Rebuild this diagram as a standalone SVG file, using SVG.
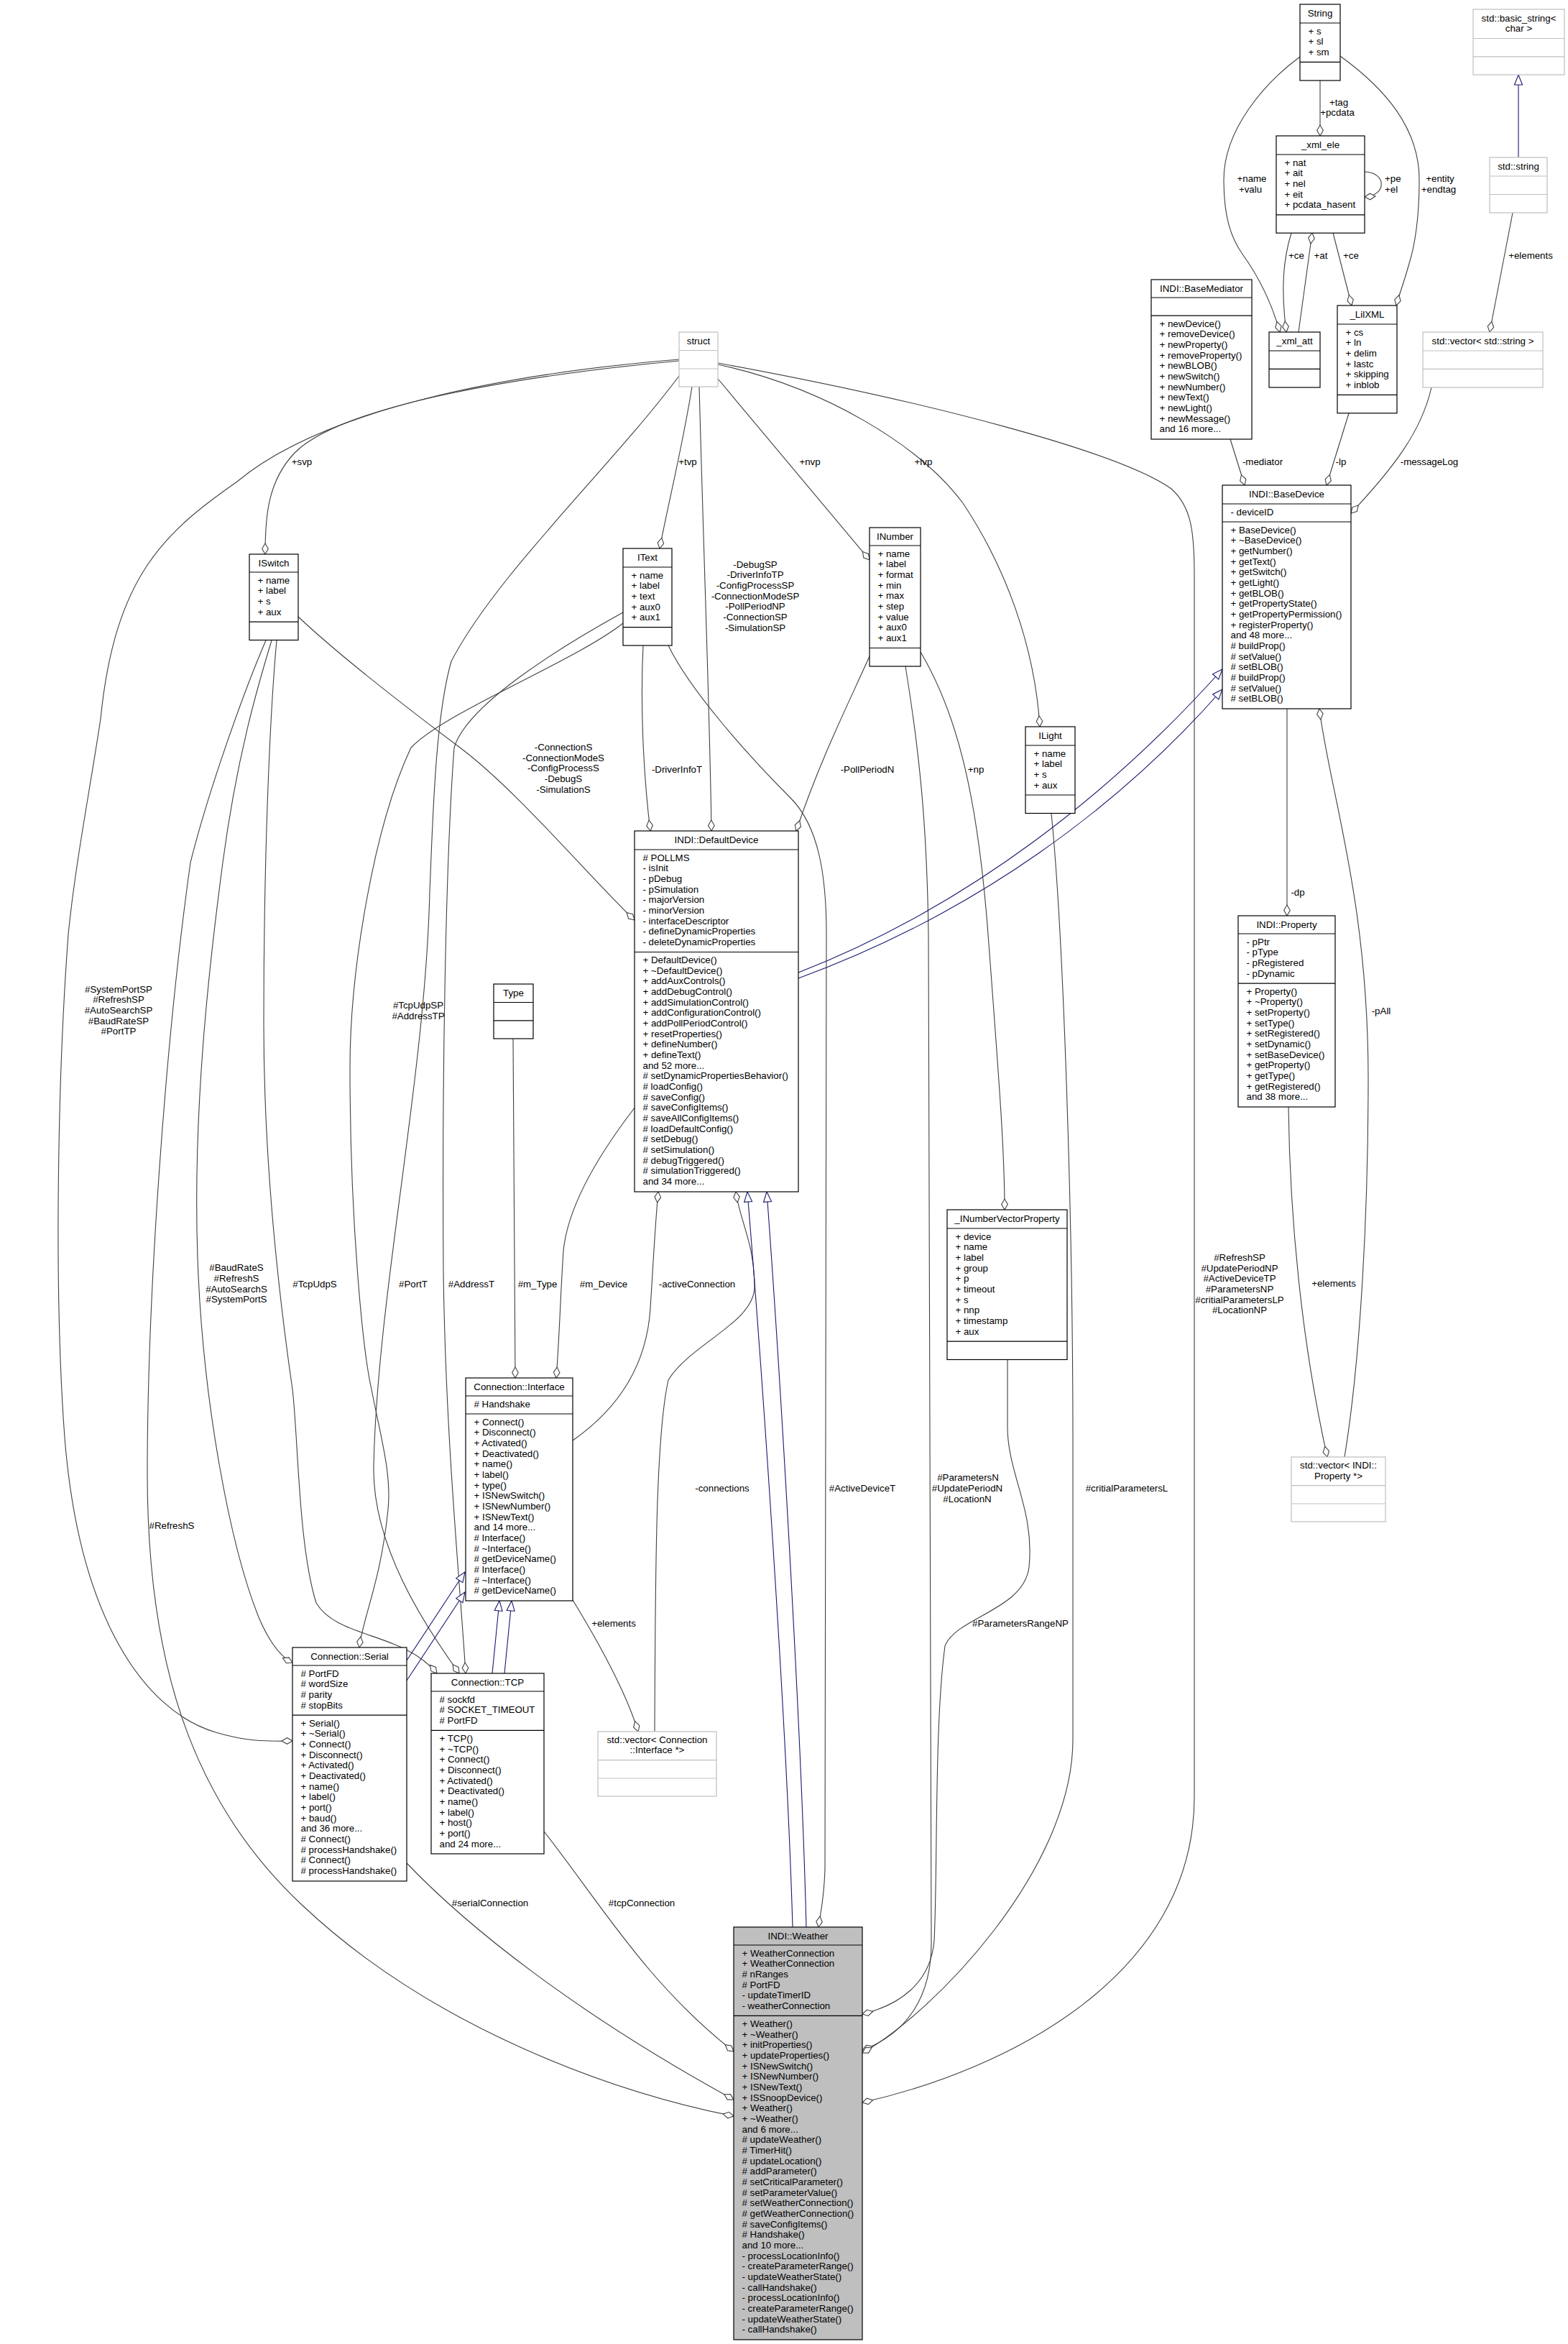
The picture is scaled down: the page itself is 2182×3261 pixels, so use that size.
<svg xmlns="http://www.w3.org/2000/svg" width="2182" height="3261" viewBox="0 0 2182 3261">
<style>
text{font-family:"Liberation Sans",Arial,sans-serif;font-size:13.3px;fill:#000}
.c{text-anchor:middle}
.b{fill:#fff;stroke:#000;stroke-width:1.2}
.gb{fill:#fff;stroke:#bfbfbf;stroke-width:1.2}
.w{fill:#bfbfbf;stroke:#000;stroke-width:1.2}
.s{stroke:#000;stroke-width:1.2}
.gs{stroke:#bfbfbf;stroke-width:1.2}
.e{fill:none;stroke:#404040;stroke-width:1.1}
.ih{fill:none;stroke:#191970;stroke-width:1.1}
</style>
<defs>
<marker id="d" viewBox="-17 -6 18 12" refX="0" refY="0" markerWidth="18" markerHeight="12" markerUnits="userSpaceOnUse" orient="auto"><path d="M0,0 L-7.5,-4.3 L-15,0 L-7.5,4.3 Z" fill="#fff" stroke="#404040" stroke-width="1.1"/></marker>
<marker id="tr" viewBox="-17 -7 18 14" refX="0" refY="0" markerWidth="18" markerHeight="14" markerUnits="userSpaceOnUse" orient="auto"><path d="M0,0 L-14,-5.5 L-14,5.5 Z" fill="#fff" stroke="#191970" stroke-width="1.1"/></marker>
</defs>
<rect x="0" y="0" width="2182" height="3261" fill="#fff"/>

<g id="edges">
<path class="e" d="M1837,112 L1837,189" marker-end="url(#d)"/>
<path class="e" d="M1809,79 C1760,115 1703,180 1703,250 C1703,300 1712,330 1730,355 C1755,390 1772,430 1781,462" marker-end="url(#d)"/>
<path class="e" d="M1865,78 C1930,125 1975,180 1975,250 C1975,310 1968,345 1960,370 C1953,395 1947,410 1943,425" marker-end="url(#d)"/>
<path class="e" d="M1899,239 C1930,240 1930,272 1899,274" marker-end="url(#d)"/>
<path class="e" d="M1797,324 C1786,360 1782,400 1790,462" marker-end="url(#d)"/>
<path class="e" d="M1807,462 L1826,324" marker-end="url(#d)"/>
<path class="e" d="M1855,324 L1881,425" marker-end="url(#d)"/>
<path class="ih" d="M2113,219 L2113,104" marker-end="url(#tr)"/>
<path class="e" d="M2105,296 L2073,462" marker-end="url(#d)"/>
<path class="e" d="M1712,611 L1732,675" marker-end="url(#d)"/>
<path class="e" d="M1877,575 L1846,675" marker-end="url(#d)"/>
<path class="e" d="M1992,539 C1978,600 1940,650 1880,714" marker-end="url(#d)"/>
<path class="e" d="M1791,986 L1791,1274" marker-end="url(#d)"/>
<path class="e" d="M1793,1540 C1795,1700 1812,1870 1847,2027" marker-end="url(#d)"/>
<path class="e" d="M1871,2027 C1892,1900 1904,1700 1904,1500 C1904,1250 1850,1100 1836,986" marker-end="url(#d)"/>
<path class="e" d="M945,502 C750,520 480,560 410,630 C372,670 369,720 369,771" marker-end="url(#d)"/>
<path class="e" d="M963,538 C950,620 930,700 918,763" marker-end="url(#d)"/>
<path class="e" d="M999,527 L1210,779" marker-end="url(#d)"/>
<path class="e" d="M999,507 C1150,540 1280,620 1340,700 C1400,790 1440,900 1447,1011" marker-end="url(#d)"/>
<path class="e" d="M973,538 C980,800 988,1000 990,1156" marker-end="url(#d)"/>
<path class="e" d="M945,500 C700,520 450,570 330,670 C230,740 160,800 140,1000 C125,1100 105,1200 95,1300 C80,1500 75,1800 90,2000 C110,2250 200,2380 300,2410 C350,2425 380,2422 407,2422" marker-end="url(#d)"/>
<path class="e" d="M945,523 C850,650 690,800 628,920 C605,1000 602,1150 598,1240 C592,1500 525,1800 520,2040 C518,2150 590,2260 639,2328" marker-end="url(#d)"/>
<path class="e" d="M999,505 C1300,560 1560,630 1630,680 C1658,705 1662,740 1662,800 L1662,2500 C1662,2750 1400,2880 1200,2925" marker-end="url(#d)"/>
<path class="e" d="M415,858 C470,910 560,980 640,1040 C720,1100 820,1220 883,1280" marker-end="url(#d)"/>
<path class="e" d="M378,891 C360,950 330,1050 310,1200 C290,1350 268,1550 275,1750 C282,1950 320,2150 360,2250 C375,2285 390,2305 407,2313" marker-end="url(#d)"/>
<path class="e" d="M385,891 C375,1000 367,1200 367,1423 C367,1650 395,1850 407,1933 C415,2000 415,2150 440,2230 C470,2280 560,2270 608,2328" marker-end="url(#d)"/>
<path class="e" d="M370,891 C340,960 290,1100 265,1200 C230,1450 205,1800 205,2050 C205,2300 260,2500 420,2650 C600,2820 850,2910 1021,2944" marker-end="url(#d)"/>
<path class="e" d="M895,898 C890,1000 898,1100 905,1156" marker-end="url(#d)"/>
<path class="e" d="M867,867 C800,920 620,990 572,1040 C520,1150 487,1350 487,1486 C487,1700 505,1880 517,1933 C530,2000 545,2050 540,2100 C530,2200 505,2250 500,2292" marker-end="url(#d)"/>
<path class="e" d="M867,852 C780,900 650,980 632,1040 C620,1200 615,1500 617,1770 C620,2000 640,2200 648,2328" marker-end="url(#d)"/>
<path class="e" d="M930,898 C960,960 1040,1050 1100,1110 C1140,1150 1150,1220 1150,1300 L1148,2600 C1147,2640 1142,2660 1139,2681" marker-end="url(#d)"/>
<path class="e" d="M1210,913 C1180,980 1140,1060 1108,1156" marker-end="url(#d)"/>
<path class="e" d="M1281,907 C1330,990 1360,1100 1375,1300 C1390,1500 1398,1600 1398,1683" marker-end="url(#d)"/>
<path class="e" d="M1260,927 C1280,1050 1290,1150 1292,1300 L1296,2700 C1297,2780 1260,2830 1200,2852" marker-end="url(#d)"/>
<path class="e" d="M1463,1132 C1480,1300 1493,1700 1493,2000 L1493,2420 C1493,2600 1300,2800 1200,2856" marker-end="url(#d)"/>
<path class="e" d="M1402,1891 L1402,1985 C1402,2050 1440,2100 1432,2180 C1425,2240 1330,2250 1315,2290 C1300,2400 1305,2600 1300,2700 C1295,2760 1250,2790 1200,2802" marker-end="url(#d)"/>
<path class="e" d="M714,1445 L717,1917" marker-end="url(#d)"/>
<path class="e" d="M884,1540 C830,1610 790,1680 784,1740 C780,1800 778,1870 774,1917" marker-end="url(#d)"/>
<path class="e" d="M797,2004 C860,1960 900,1900 905,1820 C910,1740 912,1700 916,1658" marker-end="url(#d)"/>
<path class="e" d="M797,2226 C830,2280 870,2350 888,2409" marker-end="url(#d)"/>
<path class="e" d="M911,2409 C912,2200 912,2000 930,1920 C960,1870 1050,1840 1050,1790 C1050,1730 1030,1700 1024,1658" marker-end="url(#d)"/>
<path class="ih" d="M566,2310 L647,2187" marker-end="url(#tr)"/>
<path class="ih" d="M566,2338 L647,2215" marker-end="url(#tr)"/>
<path class="ih" d="M685,2328 L695,2227" marker-end="url(#tr)"/>
<path class="ih" d="M702,2328 L712,2227" marker-end="url(#tr)"/>
<path class="ih" d="M1103,2681 C1095,2400 1060,1900 1040,1658" marker-end="url(#tr)"/>
<path class="ih" d="M1122,2681 C1115,2400 1085,1900 1067,1658" marker-end="url(#tr)"/>
<path class="ih" d="M1111,1353 C1350,1260 1550,1100 1701,931" marker-end="url(#tr)"/>
<path class="ih" d="M1111,1361 C1360,1270 1560,1120 1701,959" marker-end="url(#tr)"/>
<path class="e" d="M566,2592 C650,2680 800,2800 1021,2921" marker-end="url(#d)"/>
<path class="e" d="M757,2548 C830,2640 900,2760 1021,2854" marker-end="url(#d)"/>

<g id="edge-labels">
<text class="c" x="1863" y="147">+tag</text>
<text class="c" x="1861" y="161">+pcdata</text>
<text class="c" x="1742" y="253">+name</text>
<text class="c" x="1740" y="268">+valu</text>
<text x="1927" y="253">+pe</text>
<text x="1927" y="268">+el</text>
<text class="c" x="2004" y="253">+entity</text>
<text class="c" x="2002" y="268">+endtag</text>
<text class="c" x="1804" y="360">+ce</text>
<text class="c" x="1838" y="360">+at</text>
<text class="c" x="1880" y="360">+ce</text>
<text class="c" x="2130" y="360">+elements</text>
<text class="c" x="1757" y="647">-mediator</text>
<text class="c" x="1866" y="647">-lp</text>
<text class="c" x="1989" y="647">-messageLog</text>
<text class="c" x="1806" y="1246">-dp</text>
<text class="c" x="1922" y="1411">-pAll</text>
<text class="c" x="1856" y="1790">+elements</text>
<text class="c" x="420" y="647">+svp</text>
<text class="c" x="957" y="647">+tvp</text>
<text class="c" x="1127" y="647">+nvp</text>
<text class="c" x="1285" y="647">+lvp</text>
<text class="c" x="1051" y="789.6">-DebugSP</text>
<text class="c" x="1051" y="804.3">-DriverInfoTP</text>
<text class="c" x="1051" y="819">-ConfigProcessSP</text>
<text class="c" x="1051" y="833.7">-ConnectionModeSP</text>
<text class="c" x="1051" y="848.3">-PollPeriodNP</text>
<text class="c" x="1051" y="863">-ConnectionSP</text>
<text class="c" x="1051" y="877.7">-SimulationSP</text>
<text class="c" x="784" y="1043.8">-ConnectionS</text>
<text class="c" x="784" y="1058.5">-ConnectionModeS</text>
<text class="c" x="784" y="1073.1">-ConfigProcessS</text>
<text class="c" x="784" y="1087.8">-DebugS</text>
<text class="c" x="784" y="1102.5">-SimulationS</text>
<text class="c" x="942" y="1075">-DriverInfoT</text>
<text class="c" x="1207" y="1075">-PollPeriodN</text>
<text class="c" x="1358" y="1075">+np</text>
<text class="c" x="165" y="1380.6">#SystemPortSP</text>
<text class="c" x="165" y="1395.3">#RefreshSP</text>
<text class="c" x="165" y="1410">#AutoSearchSP</text>
<text class="c" x="165" y="1424.6">#BaudRateSP</text>
<text class="c" x="165" y="1439.3">#PortTP</text>
<text class="c" x="582" y="1402.8">#TcpUdpSP</text>
<text class="c" x="582" y="1417.5">#AddressTP</text>
<text class="c" x="329" y="1768.4">#BaudRateS</text>
<text class="c" x="329" y="1783.1">#RefreshS</text>
<text class="c" x="329" y="1797.7">#AutoSearchS</text>
<text class="c" x="329" y="1812.4">#SystemPortS</text>
<text class="c" x="438" y="1790.7">#TcpUdpS</text>
<text class="c" x="575" y="1790.7">#PortT</text>
<text class="c" x="656" y="1790.7">#AddressT</text>
<text class="c" x="748" y="1790.7">#m_Type</text>
<text class="c" x="840" y="1790.7">#m_Device</text>
<text class="c" x="970" y="1790.7">-activeConnection</text>
<text class="c" x="1725" y="1754">#RefreshSP</text>
<text class="c" x="1725" y="1768.7">#UpdatePeriodNP</text>
<text class="c" x="1725" y="1783.3">#ActiveDeviceTP</text>
<text class="c" x="1725" y="1798">#ParametersNP</text>
<text class="c" x="1725" y="1812.7">#critialParametersLP</text>
<text class="c" x="1725" y="1827.3">#LocationNP</text>
<text class="c" x="1005" y="2075">-connections</text>
<text class="c" x="1200" y="2075">#ActiveDeviceT</text>
<text class="c" x="1347" y="2060.4">#ParametersN</text>
<text class="c" x="1346" y="2075">#UpdatePeriodN</text>
<text class="c" x="1346" y="2089.7">#LocationN</text>
<text class="c" x="1568" y="2075">#critialParametersL</text>
<text class="c" x="239" y="2126.5">#RefreshS</text>
<text class="c" x="854" y="2262.5">+elements</text>
<text class="c" x="1420" y="2262.5">#ParametersRangeNP</text>
<text class="c" x="682" y="2651.5">#serialConnection</text>
<text class="c" x="893" y="2651.5">#tcpConnection</text>
</g>
</g>

<g id="n_String">
<rect class="b" x="1809" y="6" width="56" height="106"/>
<line class="s" x1="1809" y1="32" x2="1865" y2="32"/><line class="s" x1="1809" y1="86.4" x2="1865" y2="86.4"/>
<text class="c" x="1837" y="23">String</text>
<text x="1820.5" y="47.5">+ s</text><text x="1820.5" y="62.2">+ sl</text><text x="1820.5" y="76.8">+ sm</text>
</g>

<g id="n_xml_ele">
<rect class="b" x="1776" y="189" width="123" height="135.2"/>
<line class="s" x1="1776" y1="215" x2="1899" y2="215"/><line class="s" x1="1776" y1="298.8" x2="1899" y2="298.8"/>
<text class="c" x="1837.5" y="206">_xml_ele</text>
<text x="1787.5" y="230.5">+ nat</text><text x="1787.5" y="245.2">+ ait</text><text x="1787.5" y="259.8">+ nel</text><text x="1787.5" y="274.5">+ eit</text><text x="1787.5" y="289.2">+ pcdata_hasent</text>
</g>

<g id="n_xml_att">
<rect class="b" x="1766" y="462" width="71" height="77"/>
<line class="s" x1="1766" y1="488" x2="1837" y2="488"/><line class="s" x1="1766" y1="513.4" x2="1837" y2="513.4"/>
<text class="c" x="1801.5" y="479">_xml_att</text>
</g>

<g id="n_LilXML">
<rect class="b" x="1861" y="425" width="83" height="149.8"/>
<line class="s" x1="1861" y1="451" x2="1944" y2="451"/><line class="s" x1="1861" y1="549.4" x2="1944" y2="549.4"/>
<text class="c" x="1902.5" y="442">_LilXML</text>
<text x="1872.5" y="466.5">+ cs</text><text x="1872.5" y="481.2">+ ln</text><text x="1872.5" y="495.8">+ delim</text><text x="1872.5" y="510.5">+ lastc</text><text x="1872.5" y="525.2">+ skipping</text><text x="1872.5" y="539.8">+ inblob</text>
</g>

<g id="n_basic_string">
<rect class="gb" x="2050" y="13" width="127" height="91"/>
<line class="gs" x1="2050" y1="53.5" x2="2177" y2="53.5"/><line class="gs" x1="2050" y1="78.8" x2="2177" y2="78.8"/>
<text class="c" x="2113.5" y="29.5">std::basic_string&lt;</text>
<text class="c" x="2113.5" y="44">char &gt;</text>
</g>

<g id="n_std_string">
<rect class="gb" x="2073" y="219" width="80" height="77"/>
<line class="gs" x1="2073" y1="245" x2="2153" y2="245"/><line class="gs" x1="2073" y1="270.5" x2="2153" y2="270.5"/>
<text class="c" x="2113" y="236">std::string</text>
</g>

<g id="n_vector_string">
<rect class="gb" x="1980" y="462" width="167" height="77"/>
<line class="gs" x1="1980" y1="488" x2="2147" y2="488"/><line class="gs" x1="1980" y1="513.4" x2="2147" y2="513.4"/>
<text class="c" x="2063.5" y="479">std::vector&lt; std::string &gt;</text>
</g>

<g id="n_BaseMediator">
<rect class="b" x="1602" y="389" width="140" height="222"/>
<line class="s" x1="1602" y1="414" x2="1742" y2="414"/><line class="s" x1="1602" y1="439.2" x2="1742" y2="439.2"/>
<text class="c" x="1672" y="406">INDI::BaseMediator</text>
<text x="1613.5" y="454.7">+ newDevice()</text>
<text x="1613.5" y="469.4">+ removeDevice()</text>
<text x="1613.5" y="484">+ newProperty()</text>
<text x="1613.5" y="498.7">+ removeProperty()</text>
<text x="1613.5" y="513.4">+ newBLOB()</text>
<text x="1613.5" y="528.1">+ newSwitch()</text>
<text x="1613.5" y="542.7">+ newNumber()</text>
<text x="1613.5" y="557.4">+ newText()</text>
<text x="1613.5" y="572.1">+ newLight()</text>
<text x="1613.5" y="586.7">+ newMessage()</text>
<text x="1613.5" y="601.4">and 16 more...</text>
</g>

<g id="n_BaseDevice">
<rect class="b" x="1701" y="675" width="179" height="311"/>
<line class="s" x1="1701" y1="701" x2="1880" y2="701"/><line class="s" x1="1701" y1="726" x2="1880" y2="726"/>
<text class="c" x="1790.5" y="692">INDI::BaseDevice</text>
<text x="1712.5" y="716.5">- deviceID</text>
<text x="1712.5" y="741.5">+ BaseDevice()</text>
<text x="1712.5" y="756.2">+ ~BaseDevice()</text>
<text x="1712.5" y="770.8">+ getNumber()</text>
<text x="1712.5" y="785.5">+ getText()</text>
<text x="1712.5" y="800.2">+ getSwitch()</text>
<text x="1712.5" y="814.9">+ getLight()</text>
<text x="1712.5" y="829.5">+ getBLOB()</text>
<text x="1712.5" y="844.2">+ getPropertyState()</text>
<text x="1712.5" y="858.9">+ getPropertyPermission()</text>
<text x="1712.5" y="873.5">+ registerProperty()</text>
<text x="1712.5" y="888.2">and 48 more...</text>
<text x="1712.5" y="902.9"># buildProp()</text>
<text x="1712.5" y="917.5"># setValue()</text>
<text x="1712.5" y="932.2"># setBLOB()</text>
<text x="1712.5" y="946.9"># buildProp()</text>
<text x="1712.5" y="961.6"># setValue()</text>
<text x="1712.5" y="976.2"># setBLOB()</text>
</g>

<g id="n_struct">
<rect class="gb" x="945" y="462" width="54" height="76"/>
<line class="gs" x1="945" y1="487.5" x2="999" y2="487.5"/><line class="gs" x1="945" y1="513" x2="999" y2="513"/>
<text class="c" x="972" y="479">struct</text>
</g>

<g id="n_ISwitch">
<rect class="b" x="347" y="771" width="68" height="119.5"/>
<line class="s" x1="347" y1="796" x2="415" y2="796"/><line class="s" x1="347" y1="865.1" x2="415" y2="865.1"/>
<text class="c" x="381" y="788">ISwitch</text>
<text x="358.5" y="811.5">+ name</text><text x="358.5" y="826.2">+ label</text><text x="358.5" y="840.8">+ s</text><text x="358.5" y="855.5">+ aux</text>
</g>

<g id="n_IText">
<rect class="b" x="867" y="763" width="68" height="135"/>
<line class="s" x1="867" y1="789" x2="935" y2="789"/><line class="s" x1="867" y1="872.7" x2="935" y2="872.7"/>
<text class="c" x="901" y="780">IText</text>
<text x="878.5" y="804.5">+ name</text><text x="878.5" y="819.2">+ label</text><text x="878.5" y="833.8">+ text</text><text x="878.5" y="848.5">+ aux0</text><text x="878.5" y="863.2">+ aux1</text>
</g>

<g id="n_INumber">
<rect class="b" x="1210" y="734" width="71" height="193"/>
<line class="s" x1="1210" y1="759" x2="1281" y2="759"/><line class="s" x1="1210" y1="901.5" x2="1281" y2="901.5"/>
<text class="c" x="1245.5" y="751">INumber</text>
<text x="1221.5" y="774.5">+ name</text><text x="1221.5" y="789.2">+ label</text><text x="1221.5" y="803.8">+ format</text><text x="1221.5" y="818.5">+ min</text><text x="1221.5" y="833.2">+ max</text><text x="1221.5" y="847.9">+ step</text><text x="1221.5" y="862.5">+ value</text><text x="1221.5" y="877.2">+ aux0</text><text x="1221.5" y="891.9">+ aux1</text>
</g>

<g id="n_ILight">
<rect class="b" x="1427" y="1011" width="69" height="120.5"/>
<line class="s" x1="1427" y1="1037" x2="1496" y2="1037"/><line class="s" x1="1427" y1="1106" x2="1496" y2="1106"/>
<text class="c" x="1461.5" y="1028">ILight</text>
<text x="1438.5" y="1052.5">+ name</text><text x="1438.5" y="1067.2">+ label</text><text x="1438.5" y="1081.8">+ s</text><text x="1438.5" y="1096.5">+ aux</text>
</g>

<g id="n_DefaultDevice">
<rect class="b" x="883" y="1156" width="228" height="502"/>
<line class="s" x1="883" y1="1182" x2="1111" y2="1182"/><line class="s" x1="883" y1="1324.5" x2="1111" y2="1324.5"/>
<text class="c" x="997" y="1173">INDI::DefaultDevice</text>
<text x="894.5" y="1197.5"># POLLMS</text>
<text x="894.5" y="1212.2">- isInit</text>
<text x="894.5" y="1226.8">- pDebug</text>
<text x="894.5" y="1241.5">- pSimulation</text>
<text x="894.5" y="1256.2">- majorVersion</text>
<text x="894.5" y="1270.9">- minorVersion</text>
<text x="894.5" y="1285.5">- interfaceDescriptor</text>
<text x="894.5" y="1300.2">- defineDynamicProperties</text>
<text x="894.5" y="1314.9">- deleteDynamicProperties</text>
<text x="894.5" y="1340">+ DefaultDevice()</text>
<text x="894.5" y="1354.7">+ ~DefaultDevice()</text>
<text x="894.5" y="1369.3">+ addAuxControls()</text>
<text x="894.5" y="1384">+ addDebugControl()</text>
<text x="894.5" y="1398.7">+ addSimulationControl()</text>
<text x="894.5" y="1413.4">+ addConfigurationControl()</text>
<text x="894.5" y="1428">+ addPollPeriodControl()</text>
<text x="894.5" y="1442.7">+ resetProperties()</text>
<text x="894.5" y="1457.4">+ defineNumber()</text>
<text x="894.5" y="1472">+ defineText()</text>
<text x="894.5" y="1486.7">and 52 more...</text>
<text x="894.5" y="1501.4"># setDynamicPropertiesBehavior()</text>
<text x="894.5" y="1516"># loadConfig()</text>
<text x="894.5" y="1530.7"># saveConfig()</text>
<text x="894.5" y="1545.4"># saveConfigItems()</text>
<text x="894.5" y="1560.1"># saveAllConfigItems()</text>
<text x="894.5" y="1574.7"># loadDefaultConfig()</text>
<text x="894.5" y="1589.4"># setDebug()</text>
<text x="894.5" y="1604.1"># setSimulation()</text>
<text x="894.5" y="1618.7"># debugTriggered()</text>
<text x="894.5" y="1633.4"># simulationTriggered()</text>
<text x="894.5" y="1648.1">and 34 more...</text>
</g>

<g id="n_Property">
<rect class="b" x="1723" y="1274" width="135" height="266"/>
<line class="s" x1="1723" y1="1299" x2="1858" y2="1299"/><line class="s" x1="1723" y1="1368.1" x2="1858" y2="1368.1"/>
<text class="c" x="1790.5" y="1291">INDI::Property</text>
<text x="1734.5" y="1314.5">- pPtr</text><text x="1734.5" y="1329.2">- pType</text><text x="1734.5" y="1343.8">- pRegistered</text><text x="1734.5" y="1358.5">- pDynamic</text>
<text x="1734.5" y="1383.6">+ Property()</text>
<text x="1734.5" y="1398.3">+ ~Property()</text>
<text x="1734.5" y="1412.9">+ setProperty()</text>
<text x="1734.5" y="1427.6">+ setType()</text>
<text x="1734.5" y="1442.3">+ setRegistered()</text>
<text x="1734.5" y="1457">+ setDynamic()</text>
<text x="1734.5" y="1471.6">+ setBaseDevice()</text>
<text x="1734.5" y="1486.3">+ getProperty()</text>
<text x="1734.5" y="1501">+ getType()</text>
<text x="1734.5" y="1515.6">+ getRegistered()</text>
<text x="1734.5" y="1530.3">and 38 more...</text>
</g>

<g id="n_vector_Property">
<rect class="gb" x="1797" y="2027" width="131" height="90"/>
<line class="gs" x1="1797" y1="2066.6" x2="1928" y2="2066.6"/><line class="gs" x1="1797" y1="2092" x2="1928" y2="2092"/>
<text class="c" x="1862.5" y="2043">std::vector&lt; INDI::</text>
<text class="c" x="1862.5" y="2057.5">Property *&gt;</text>
</g>

<g id="n_INumberVectorProperty">
<rect class="b" x="1318" y="1683" width="167" height="208.5"/>
<line class="s" x1="1318" y1="1709" x2="1485" y2="1709"/><line class="s" x1="1318" y1="1866.1" x2="1485" y2="1866.1"/>
<text class="c" x="1401.5" y="1700">_INumberVectorProperty</text>
<text x="1329.5" y="1724.5">+ device</text><text x="1329.5" y="1739.2">+ name</text><text x="1329.5" y="1753.8">+ label</text><text x="1329.5" y="1768.5">+ group</text><text x="1329.5" y="1783.2">+ p</text><text x="1329.5" y="1797.9">+ timeout</text><text x="1329.5" y="1812.5">+ s</text><text x="1329.5" y="1827.2">+ nnp</text><text x="1329.5" y="1841.9">+ timestamp</text><text x="1329.5" y="1856.5">+ aux</text>
</g>

<g id="n_Type">
<rect class="b" x="687" y="1369" width="55" height="76"/>
<line class="s" x1="687" y1="1394.5" x2="742" y2="1394.5"/><line class="s" x1="687" y1="1419.8" x2="742" y2="1419.8"/>
<text class="c" x="714.5" y="1386">Type</text>
</g>

<g id="n_Interface">
<rect class="b" x="648" y="1917" width="149" height="310"/>
<line class="s" x1="648" y1="1942" x2="797" y2="1942"/><line class="s" x1="648" y1="1967" x2="797" y2="1967"/>
<text class="c" x="722.5" y="1934">Connection::Interface</text>
<text x="659.5" y="1957.5"># Handshake</text>
<text x="659.5" y="1982.5">+ Connect()</text>
<text x="659.5" y="1997.2">+ Disconnect()</text>
<text x="659.5" y="2011.8">+ Activated()</text>
<text x="659.5" y="2026.5">+ Deactivated()</text>
<text x="659.5" y="2041.2">+ name()</text>
<text x="659.5" y="2055.9">+ label()</text>
<text x="659.5" y="2070.5">+ type()</text>
<text x="659.5" y="2085.2">+ ISNewSwitch()</text>
<text x="659.5" y="2099.9">+ ISNewNumber()</text>
<text x="659.5" y="2114.5">+ ISNewText()</text>
<text x="659.5" y="2129.2">and 14 more...</text>
<text x="659.5" y="2143.9"># Interface()</text>
<text x="659.5" y="2158.5"># ~Interface()</text>
<text x="659.5" y="2173.2"># getDeviceName()</text>
<text x="659.5" y="2187.9"># Interface()</text>
<text x="659.5" y="2202.6"># ~Interface()</text>
<text x="659.5" y="2217.2"># getDeviceName()</text>
</g>

<g id="n_Serial">
<rect class="b" x="407" y="2292" width="159" height="325"/>
<line class="s" x1="407" y1="2317" x2="566" y2="2317"/><line class="s" x1="407" y1="2386.1" x2="566" y2="2386.1"/>
<text class="c" x="486.5" y="2309">Connection::Serial</text>
<text x="418.5" y="2332.5"># PortFD</text><text x="418.5" y="2347.2"># wordSize</text><text x="418.5" y="2361.8"># parity</text><text x="418.5" y="2376.5"># stopBits</text>
<text x="418.5" y="2401.6">+ Serial()</text>
<text x="418.5" y="2416.3">+ ~Serial()</text>
<text x="418.5" y="2430.9">+ Connect()</text>
<text x="418.5" y="2445.6">+ Disconnect()</text>
<text x="418.5" y="2460.3">+ Activated()</text>
<text x="418.5" y="2475">+ Deactivated()</text>
<text x="418.5" y="2489.6">+ name()</text>
<text x="418.5" y="2504.3">+ label()</text>
<text x="418.5" y="2519">+ port()</text>
<text x="418.5" y="2533.6">+ baud()</text>
<text x="418.5" y="2548.3">and 36 more...</text>
<text x="418.5" y="2563"># Connect()</text>
<text x="418.5" y="2577.6"># processHandshake()</text>
<text x="418.5" y="2592.3"># Connect()</text>
<text x="418.5" y="2607"># processHandshake()</text>
</g>

<g id="n_TCP">
<rect class="b" x="600" y="2328" width="157" height="251"/>
<line class="s" x1="600" y1="2353" x2="757" y2="2353"/><line class="s" x1="600" y1="2407.4" x2="757" y2="2407.4"/>
<text class="c" x="678.5" y="2345">Connection::TCP</text>
<text x="611.5" y="2368.5"># sockfd</text><text x="611.5" y="2383.2"># SOCKET_TIMEOUT</text><text x="611.5" y="2397.8"># PortFD</text>
<text x="611.5" y="2422.9">+ TCP()</text>
<text x="611.5" y="2437.6">+ ~TCP()</text>
<text x="611.5" y="2452.2">+ Connect()</text>
<text x="611.5" y="2466.9">+ Disconnect()</text>
<text x="611.5" y="2481.6">+ Activated()</text>
<text x="611.5" y="2496.3">+ Deactivated()</text>
<text x="611.5" y="2510.9">+ name()</text>
<text x="611.5" y="2525.6">+ label()</text>
<text x="611.5" y="2540.3">+ host()</text>
<text x="611.5" y="2554.9">+ port()</text>
<text x="611.5" y="2569.6">and 24 more...</text>
</g>

<g id="n_vector_Interface">
<rect class="gb" x="832" y="2409" width="165" height="90"/>
<line class="gs" x1="832" y1="2448.7" x2="997" y2="2448.7"/><line class="gs" x1="832" y1="2474" x2="997" y2="2474"/>
<text class="c" x="914.5" y="2424.5">std::vector&lt; Connection</text>
<text class="c" x="914.5" y="2439.2">::Interface *&gt;</text>
</g>

<g id="n_Weather">
<rect class="w" x="1021" y="2681" width="179" height="574"/>
<line class="s" x1="1021" y1="2706" x2="1200" y2="2706"/><line class="s" x1="1021" y1="2804.4" x2="1200" y2="2804.4"/>
<text class="c" x="1110.5" y="2698">INDI::Weather</text>
<text x="1032.5" y="2721.5">+ WeatherConnection</text>
<text x="1032.5" y="2736.2">+ WeatherConnection</text>
<text x="1032.5" y="2750.8"># nRanges</text>
<text x="1032.5" y="2765.5"># PortFD</text>
<text x="1032.5" y="2780.2">- updateTimerID</text>
<text x="1032.5" y="2794.9">- weatherConnection</text>
<text x="1032.5" y="2819.9">+ Weather()</text>
<text x="1032.5" y="2834.6">+ ~Weather()</text>
<text x="1032.5" y="2849.2">+ initProperties()</text>
<text x="1032.5" y="2863.9">+ updateProperties()</text>
<text x="1032.5" y="2878.6">+ ISNewSwitch()</text>
<text x="1032.5" y="2893.3">+ ISNewNumber()</text>
<text x="1032.5" y="2907.9">+ ISNewText()</text>
<text x="1032.5" y="2922.6">+ ISSnoopDevice()</text>
<text x="1032.5" y="2937.3">+ Weather()</text>
<text x="1032.5" y="2951.9">+ ~Weather()</text>
<text x="1032.5" y="2966.6">and 6 more...</text>
<text x="1032.5" y="2981.3"># updateWeather()</text>
<text x="1032.5" y="2995.9"># TimerHit()</text>
<text x="1032.5" y="3010.6"># updateLocation()</text>
<text x="1032.5" y="3025.3"># addParameter()</text>
<text x="1032.5" y="3040"># setCriticalParameter()</text>
<text x="1032.5" y="3054.6"># setParameterValue()</text>
<text x="1032.5" y="3069.3"># setWeatherConnection()</text>
<text x="1032.5" y="3084"># getWeatherConnection()</text>
<text x="1032.5" y="3098.6"># saveConfigItems()</text>
<text x="1032.5" y="3113.3"># Handshake()</text>
<text x="1032.5" y="3128">and 10 more...</text>
<text x="1032.5" y="3142.6">- processLocationInfo()</text>
<text x="1032.5" y="3157.3">- createParameterRange()</text>
<text x="1032.5" y="3172">- updateWeatherState()</text>
<text x="1032.5" y="3186.6">- callHandshake()</text>
<text x="1032.5" y="3201.3">- processLocationInfo()</text>
<text x="1032.5" y="3216">- createParameterRange()</text>
<text x="1032.5" y="3230.6">- updateWeatherState()</text>
<text x="1032.5" y="3245.3">- callHandshake()</text>
</g>
</svg>
